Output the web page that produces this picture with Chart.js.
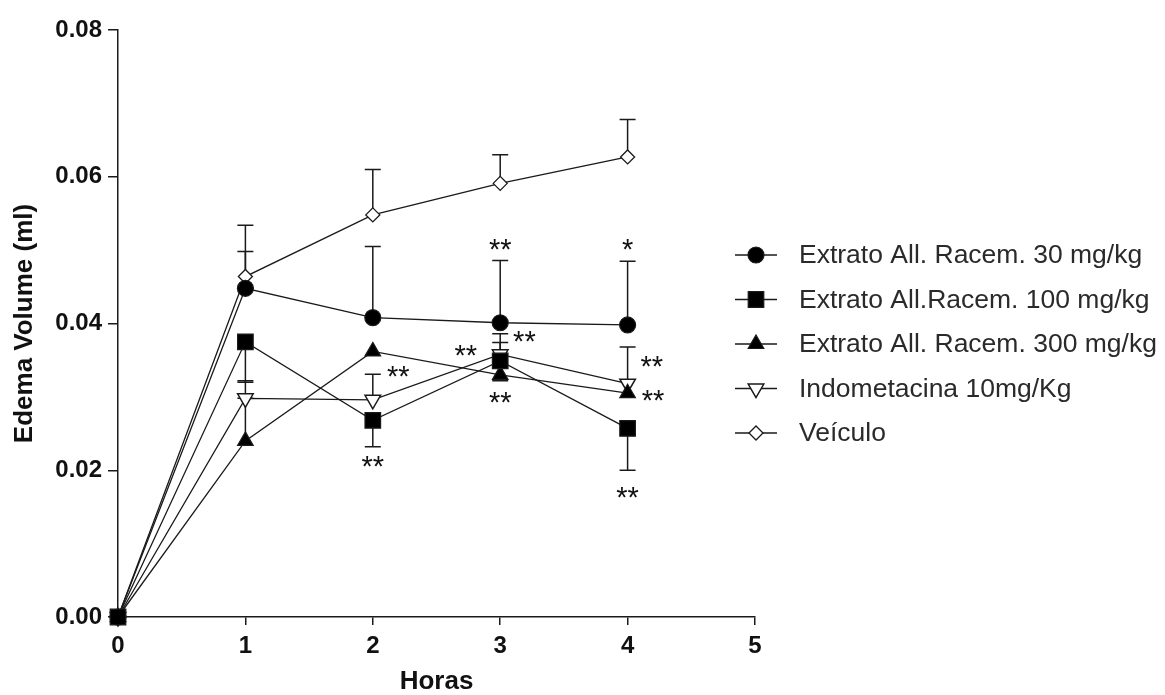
<!DOCTYPE html>
<html>
<head>
<meta charset="utf-8">
<script src="https://cdn.jsdelivr.net/npm/chart.js@4.4.1/dist/chart.umd.min.js"></script>
<style>
  html, body { margin: 0; padding: 0; background: #fff; }
  #wrap { width: 1165px; height: 695px; }
</style>
</head>
<body>
<div id="wrap"><canvas id="edema"></canvas></div>
<script>
// tempo (h) e volume médio do edema (ml)
const horas = [0, 1, 2, 3, 4];
const extrato30 = [0, 0.0448, 0.0408, 0.0401, 0.0398];
const extrato100 = [0, 0.0375, 0.0268, 0.0349, 0.0257];
const extrato300 = [0, 0.0240, 0.0362, 0.0330, 0.0305];
const indometacina = [0, 0.0298, 0.0296, 0.0358, 0.0318];
const veiculo = [0, 0.0464, 0.0548, 0.0591, 0.0627];

// EPM; valor negativo = barra desenhada para baixo
const extrato30Epm = [0, 0.0050, 0.0097, 0.0085, 0.0087];
const extrato100Epm = [0, -0.0055, -0.0036, 0.0037, -0.0057];
const extrato300Epm = [0, 0.0058, 0, -0.0008, 0];
const indometacinaEpm = [0, 0.0024, 0.0035, 0.0016, 0.0050];
const veiculoEpm = [0, 0.0070, 0.0062, 0.0039, 0.0051];

const yTicks = [0, 0.02, 0.04, 0.06, 0.08];

// significância (x em horas, y em ml)
const asteriscos = [
  { x: 3, y: 0.0510, t: '**' },
  { x: 4, y: 0.0510, t: '*' },
  { x: 2.2, y: 0.0337, t: '**' },
  { x: 2, y: 0.0215, t: '**' },
  { x: 2.73, y: 0.0366, t: '**' },
  { x: 3.19, y: 0.0385, t: '**' },
  { x: 3, y: 0.0302, t: '**' },
  { x: 4.19, y: 0.0351, t: '**' },
  { x: 4.2, y: 0.0305, t: '**' },
  { x: 4, y: 0.0173, t: '**' }
];

const FONT = "'Liberation Sans', Arial, sans-serif";
const INK = '#1a1a1a';

function pts(ys) {
  return ys.map((v, i) => ({ x: horas[i], y: v }));
}

function serie(label, ys, epm, style, extra) {
  return Object.assign({
    label: label,
    data: pts(ys),
    epm: epm,
    borderColor: INK,
    borderWidth: 1.3,
    pointStyle: style,
    pointBackgroundColor: '#000',
    pointBorderColor: INK,
    pointBorderWidth: 1.2,
    pointRadius: 8,
    tension: 0,
    fill: false,
    clip: false
  }, extra || {});
}

const datasets = [
  serie('Extrato All. Racem. 30 mg/kg', extrato30, extrato30Epm, 'circle', { order: 1 }),
  serie('Extrato All.Racem. 100 mg/kg', extrato100, extrato100Epm, 'rect', { pointRadius: 11, order: 0 }),
  serie('Extrato All. Racem. 300 mg/kg', extrato300, extrato300Epm, 'triangle', { pointRadius: 9, order: 1 }),
  serie('Indometacina 10mg/Kg', indometacina, indometacinaEpm, 'triangle',
    { pointRadius: 9, pointRotation: 180, pointBackgroundColor: '#fff', pointBorderWidth: 1.5, order: 1 }),
  serie('Veículo', veiculo, veiculoEpm, 'rectRot',
    { pointRadius: 7, pointBackgroundColor: '#fff', pointBorderWidth: 1.3, order: 1 })
];

// barras de erro (só um lado, como no GraphPad)
const errorBars = {
  id: 'errorBars',
  beforeDatasetsDraw(chart) {
    const ctx = chart.ctx;
    const yS = chart.scales.y;
    ctx.save();
    ctx.strokeStyle = INK;
    ctx.lineWidth = 1.5;
    chart.data.datasets.forEach((ds, i) => {
      const meta = chart.getDatasetMeta(i);
      meta.data.forEach((p, j) => {
        const e = ds.epm[j];
        if (!e) return;
        const yEnd = yS.getPixelForValue(ds.data[j].y + e);
        ctx.beginPath();
        ctx.moveTo(p.x, p.y);
        ctx.lineTo(p.x, yEnd);
        ctx.moveTo(p.x - 8, yEnd);
        ctx.lineTo(p.x + 8, yEnd);
        ctx.stroke();
      });
    });
    ctx.restore();
  }
};

const stars = {
  id: 'stars',
  afterDatasetsDraw(chart) {
    const ctx = chart.ctx;
    const size = 29;
    ctx.save();
    ctx.fillStyle = '#111';
    ctx.font = size + 'px ' + FONT;
    ctx.textAlign = 'center';
    ctx.textBaseline = 'alphabetic';
    asteriscos.forEach(a => {
      const x = chart.scales.x.getPixelForValue(a.x);
      const y = chart.scales.y.getPixelForValue(a.y);
      ctx.fillText(a.t, x, y + size * 0.57);
    });
    ctx.restore();
  }
};

// legenda à direita, sobreposta ao fim do eixo x
const sideLegend = {
  id: 'sideLegend',
  afterDraw(chart) {
    const ctx = chart.ctx;
    const x0 = 735, x1 = 777, tx = 799;
    let y = 255;
    ctx.save();
    chart.data.datasets.forEach(ds => {
      ctx.strokeStyle = INK;
      ctx.lineWidth = 1.3;
      ctx.beginPath();
      ctx.moveTo(x0, y);
      ctx.lineTo(x1, y);
      ctx.stroke();
      ctx.fillStyle = ds.pointBackgroundColor;
      ctx.lineWidth = ds.pointBorderWidth;
      Chart.helpers.drawPoint(ctx, {
        pointStyle: ds.pointStyle,
        rotation: ds.pointRotation || 0,
        radius: ds.pointRadius,
        borderWidth: ds.pointBorderWidth
      }, (x0 + x1) / 2, y);
      ctx.fillStyle = '#2a2a2a';
      ctx.font = '26.5px ' + FONT;
      ctx.textAlign = 'left';
      ctx.textBaseline = 'middle';
      ctx.fillText(ds.label, tx, y + 1);
      y += 44.5;
    });
    ctx.restore();
  }
};

new Chart(document.getElementById('edema'), {
  type: 'line',
  data: { datasets: datasets },
  options: {
    responsive: true,
    maintainAspectRatio: false,
    animation: false,
    layout: { padding: { top: 30, right: 410, left: 0, bottom: 0 } },
    plugins: {
      legend: { display: false },
      tooltip: { enabled: false }
    },
    scales: {
      x: {
        type: 'linear',
        min: 0,
        max: 5,
        ticks: {
          stepSize: 1,
          maxRotation: 0,
          padding: 7,
          color: '#111',
          font: { family: FONT, size: 24, weight: 'bold' }
        },
        grid: { drawOnChartArea: false, tickLength: 8, color: INK, lineWidth: 1.5 },
        border: { color: INK, width: 1.5 },
        title: {
          display: true,
          text: 'Horas',
          color: '#111',
          font: { family: FONT, size: 26, weight: 'bold', lineHeight: 1 },
          padding: { top: 0, bottom: 0 }
        },
        afterFit(s) { s.height = 78; }
      },
      y: {
        type: 'linear',
        min: 0,
        max: 0.08,
        afterBuildTicks(s) { s.ticks = yTicks.map(v => ({ value: v })); },
        ticks: {
          padding: 6,
          color: '#111',
          font: { family: FONT, size: 24, weight: 'bold' },
          callback: v => v.toFixed(2)
        },
        grid: { drawOnChartArea: false, tickLength: 10, color: INK, lineWidth: 1.5 },
        border: { color: INK, width: 1.5 },
        title: {
          display: true,
          text: 'Edema Volume (ml)',
          color: '#111',
          font: { family: FONT, size: 26, weight: 'bold', lineHeight: 1 },
          padding: { top: 12, bottom: 0 }
        },
        afterFit(s) { s.width = 118; }
      }
    }
  },
  plugins: [errorBars, stars, sideLegend]
});
</script>
</body>
</html>
